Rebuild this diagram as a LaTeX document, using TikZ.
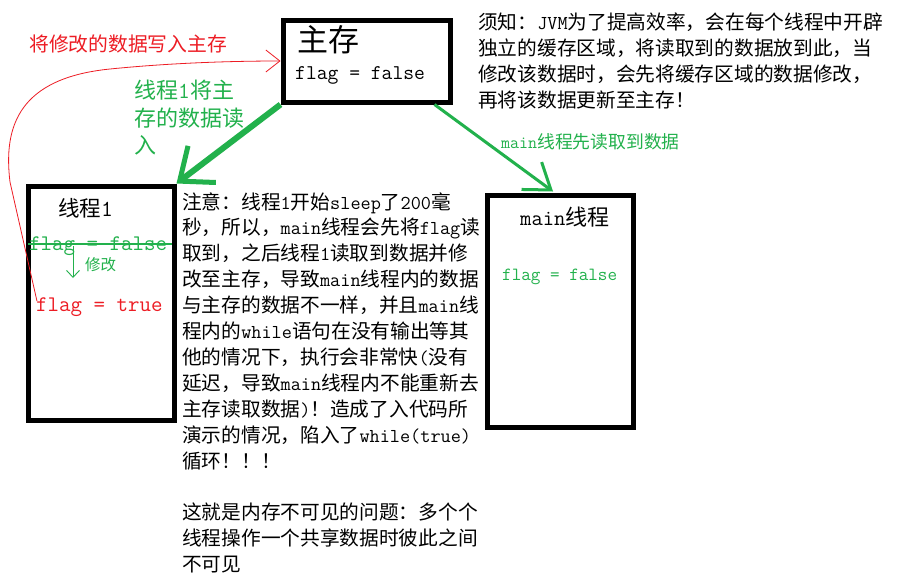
\documentclass[tikz,border=0pt]{standalone}
\usepackage{fontspec}
\usetikzlibrary{arrows.meta,calc}
\newfontfamily\cjk{Noto Sans CJK SC}
\newfontfamily\cjkb{Noto Sans CJK SC}
\definecolor{pgreen}{RGB}{34,177,76}
\definecolor{pred}{RGB}{237,28,36}
\newcommand\myL[1]{{\ttfamily\fontsize{19.7}{20}\selectfont #1}}
\tikzset{
  box/.style={draw=black,line width=5pt,inner sep=0pt},
  note/.style={anchor=base west,inner sep=0pt,font=\cjk\fontsize{19.7}{20}\selectfont},
  plain/.style={anchor=base west,inner sep=0pt},
}
\begin{document}
\begin{tikzpicture}[x=1pt,y=-1pt]
\useasboundingbox[fill=white] (0,0) rectangle (902,584);
% boxes
\node[box,minimum width=167pt,minimum height=82pt] (mem) at (366.5,61) {};
\node[box,minimum width=146pt,minimum height=234pt] (t1) at (101,303) {};
\node[box,minimum width=146pt,minimum height=232pt] (mt) at (560,311) {};
% main memory contents
\node[plain,font=\cjkb\fontsize{31}{34}\selectfont] (memt) at (297,51.5) {主存};
\node[plain,font=\ttfamily\fontsize{21}{22}\selectfont] (memf) at (295,79) {flag = false};
% thread 1 contents
\node[plain,font=\cjkb\fontsize{21.5}{24}\selectfont] (t1t) at (58,216) {线程{\ttfamily\fontsize{23}{24}\selectfont 1}};
\node[plain,text=pgreen,font=\ttfamily\fontsize{22.3}{24}\selectfont] (ff) at (29,250) {flag = false};
\node[plain,text=pgreen,font=\cjkb\fontsize{15.5}{17}\selectfont] (mod) at (85,270.5) {修改};
\node[plain,text=pred,font=\ttfamily\fontsize{22.3}{24}\selectfont] (ft) at (36,311.5) {flag = true};
% main thread contents
\node[plain,font=\cjkb\fontsize{22}{24}\selectfont] (mtt) at (520,225) {{\ttfamily\fontsize{22}{24}\selectfont main}线程};
\node[plain,text=pgreen,font=\ttfamily\fontsize{18.6}{20}\selectfont] (mf) at (502,280) {flag = false};
% strike-through and small arrow
\draw[pgreen,line width=1.2pt] (28,244) -- (172,244);
\coordinate (sa) at (73,246);
\coordinate (sb) at (73,278);
\draw[pgreen,line width=0.9pt,-{Straight Barb[length=7pt,width=13pt]}] (sa) -- (sb);
% labels
\node[plain,text=pred,font=\cjk\fontsize{19.8}{20}\selectfont] (lred) at (29,51.5) {将修改的数据写入主存};
\node[plain,text=pgreen,font=\cjkb\fontsize{22}{24}\selectfont] (lg1) at (134,98.4) {线程{\ttfamily\fontsize{23}{24}\selectfont 1}将主};
\node[plain,text=pgreen,font=\cjkb\fontsize{22}{24}\selectfont] (lg2) at (134,126.4) {存的数据读};
\node[plain,text=pgreen,font=\cjkb\fontsize{22}{24}\selectfont] (lg3) at (134,153.4) {入};
\node[plain,text=pgreen,font=\cjk\fontsize{17.8}{18}\selectfont] (lmain) at (501,148.5) {{\ttfamily\fontsize{17.5}{18}\selectfont main}线程先读取到数据};
% arrows
\draw[pgreen,line width=6pt,-{Straight Barb[length=28pt,width=46pt,line width=5pt]}] (mem.south west) -- (t1.north east);
\draw[pgreen,line width=3pt,-{Straight Barb[length=24pt,width=34pt,line width=3pt]}] ($(mem.south east)+(-18,0)$) -- ($(mt.north)+(-7,-1)$);
\draw[pred,line width=0.8pt,-{Straight Barb[length=14pt,width=22pt,line width=0.8pt]}] ($(ft.west)+(1,-6)$) -- (10,182) .. controls (3,125) and (20,78) .. (110,69) .. controls (170,63) and (230,61) .. (mem.west);
% top-right note
\node[note] (n1) at (478,29.5) {须知：\myL{JVM}为了提高效率，会在每个线程中开辟};
\node[note] (n2) at (478,55.5) {独立的缓存区域，将读取到的数据放到此，当};
\node[note] (n3) at (478,81.5) {修改该数据时，会先将缓存区域的数据修改，};
\node[note] (n4) at (478,107.5) {再将该数据更新至主存！};
% middle note
\node[note] (m1) at (182,209) {注意：线程\myL{1}开始\myL{sleep}了\myL{200}毫};
\node[note] (m2) at (182,234.9) {秒，所以，\myL{main}线程会先将\myL{flag}读};
\node[note] (m3) at (182,260.8) {取到，之后线程\myL{1}读取到数据并修};
\node[note] (m4) at (182,286.7) {改至主存，导致\myL{main}线程内的数据};
\node[note] (m5) at (182,312.6) {与主存的数据不一样，并且\myL{main}线};
\node[note] (m6) at (182,338.5) {程内的\myL{while}语句在没有输出等其};
\node[note] (m7) at (182,364.4) {他的情况下，执行会非常快\myL{(}没有};
\node[note] (m8) at (182,390.3) {延迟，导致\myL{main}线程内不能重新去};
\node[note] (m9) at (182,416.2) {主存读取数据\myL{)}！造成了入代码所};
\node[note] (m10) at (182,442.1) {演示的情况，陷入了\myL{while(true)}};
\node[note] (m11) at (182,468.0) {循环！！！};
\node[note] (m13) at (182,519.8) {这就是内存不可见的问题：多个个};
\node[note] (m14) at (182,545.7) {线程操作一个共享数据时彼此之间};
\node[note] (m15) at (182,571.6) {不可见};
\end{tikzpicture}
\end{document}
